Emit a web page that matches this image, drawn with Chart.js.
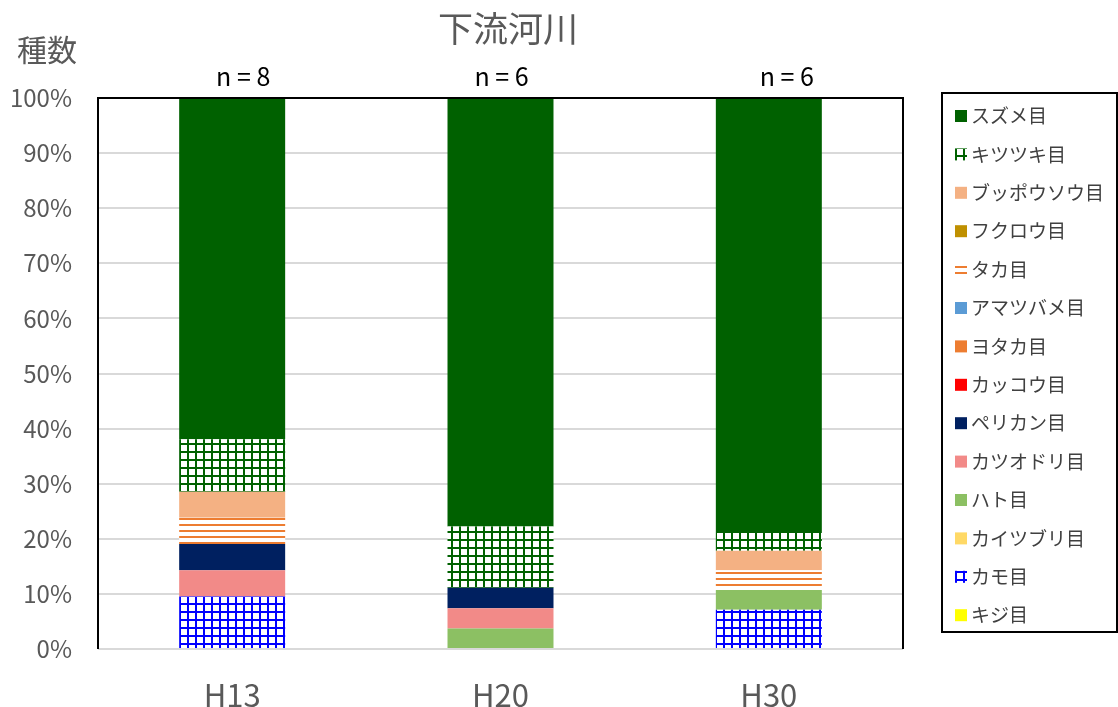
<!DOCTYPE html>
<html lang="ja">
<head>
    <meta charset="UTF-8">
    <title>下流河川</title>
    <script src="https://cdn.jsdelivr.net/npm/chart.js"></script>
    <style>
        body { margin: 0; background: #fff; }
        canvas { display: block; }
    </style>
</head>
<body>
    <canvas id="graphic" width="1118" height="707"></canvas>

    <script>
        // données (pourcentages du nombre d'espèces)
        const years = ['H13', 'H20', 'H30'];
        const nLabels = ['n = 8', 'n = 6', 'n = 6'];
        const yTicks = [0, 10, 20, 30, 40, 50, 60, 70, 80, 90, 100];

        const kiji       = [0, 0, 0];
        const kamo       = [9.52, 0, 7.14];
        const kaitsuburi = [0, 0, 0];
        const hato       = [0, 3.70, 3.57];
        const katsuodori = [4.76, 3.70, 0];
        const perikan    = [4.76, 3.70, 0];
        const kakkou     = [0, 0, 0];
        const yotaka     = [0, 0, 0];
        const amatsubame = [0, 0, 0];
        const taka       = [4.76, 0, 3.57];
        const fukurou    = [0, 0, 0];
        const buppousou  = [4.76, 0, 3.57];
        const kitsutsuki = [9.52, 11.11, 3.57];
        const suzume     = [61.90, 77.78, 78.57];

        const FONT = '"Noto Sans CJK JP", "Noto Sans", sans-serif';
        const canvas = document.getElementById('graphic');
        const ctx = canvas.getContext('2d');

        // motifs (quadrillage / lignes)
        function gridPattern(color) {
            const c = document.createElement('canvas');
            c.width = 8; c.height = 8;
            const g = c.getContext('2d');
            g.fillStyle = '#fff';
            g.fillRect(0, 0, 8, 8);
            g.fillStyle = color;
            g.fillRect(3, 0, 2, 8);
            g.fillRect(0, 3, 8, 2);
            return ctx.createPattern(c, 'repeat');
        }
        function linePattern(color) {
            const c = document.createElement('canvas');
            c.width = 6; c.height = 6;
            const g = c.getContext('2d');
            g.fillStyle = '#fff';
            g.fillRect(0, 0, 6, 6);
            g.fillStyle = color;
            g.fillRect(0, 2, 6, 2);
            return ctx.createPattern(c, 'repeat');
        }

        const series = [
            ['キジ目', kiji, '#FFFF00'],
            ['カモ目', kamo, gridPattern('#0000FF')],
            ['カイツブリ目', kaitsuburi, '#FFD966'],
            ['ハト目', hato, '#8CC063'],
            ['カツオドリ目', katsuodori, '#F28A88'],
            ['ペリカン目', perikan, '#002060'],
            ['カッコウ目', kakkou, '#FF0000'],
            ['ヨタカ目', yotaka, '#ED7D31'],
            ['アマツバメ目', amatsubame, '#5B9BD5'],
            ['タカ目', taka, linePattern('#ED7D31')],
            ['フクロウ目', fukurou, '#BF9000'],
            ['ブッポウソウ目', buppousou, '#F4B183'],
            ['キツツキ目', kitsutsuki, gridPattern('#006100')],
            ['スズメ目', suzume, '#006100'],
        ];

        const decorations = {
            id: 'decorations',
            afterDraw(chart) {
                const c = chart.ctx;
                const area = chart.chartArea;
                const x = chart.scales.x;
                c.save();

                // titre
                c.fillStyle = '#595959';
                c.font = `35px ${FONT}`;
                c.textAlign = 'center';
                c.textBaseline = 'middle';
                c.fillText('下流河川', 508, 29);

                // titre de l'axe
                c.font = `30px ${FONT}`;
                c.textAlign = 'left';
                c.fillText('種数', 17, 50);

                // n = ...
                const nOffsets = [11, 1, 18];
                c.fillStyle = '#000';
                c.font = `25px ${FONT}`;
                c.textAlign = 'center';
                nLabels.forEach((t, i) => {
                    c.fillText(t, x.getPixelForValue(i) + nOffsets[i], 76);
                });

                // bordure de la zone de tracé
                c.strokeStyle = '#000';
                c.lineWidth = 2;
                c.beginPath();
                c.moveTo(area.left, area.bottom);
                c.lineTo(area.left, area.top);
                c.lineTo(area.right, area.top);
                c.lineTo(area.right, area.bottom);
                c.stroke();

                // légende
                c.strokeRect(942, 93, 175, 539);
                c.font = `19px ${FONT}`;
                c.textAlign = 'left';
                c.textBaseline = 'middle';
                const items = chart.data.datasets.slice().reverse();
                items.forEach((ds, i) => {
                    const y = 116 + i * 38.4;
                    c.fillStyle = ds.backgroundColor;
                    c.fillRect(955, y - 6, 12, 12);
                    c.fillStyle = '#404040';
                    c.fillText(ds.label, 971, y);
                });
                c.restore();
            }
        };

        new Chart(ctx, {
            type: 'bar',
            data: {
                labels: years,
                datasets: series.map(([label, data, color]) => ({
                    label: label,
                    data: data,
                    backgroundColor: color,
                    borderWidth: 0,
                    categoryPercentage: 1,
                    barPercentage: 0.395,
                })),
            },
            options: {
                responsive: false,
                animation: false,
                layout: { padding: { top: 98, right: 215, left: 0, bottom: 0 } },
                scales: {
                    x: {
                        stacked: true,
                        grid: { display: false },
                        border: { display: false },
                        ticks: { color: '#595959', font: { family: FONT, size: 31 }, padding: 20 },
                        afterFit: (s) => { s.height = 58; },
                    },
                    y: {
                        stacked: true,
                        min: 0,
                        max: 100,
                        afterBuildTicks: (s) => { s.ticks = yTicks.map(v => ({ value: v })); },
                        grid: { color: '#D9D9D9', lineWidth: 2, drawTicks: false },
                        border: { display: false },
                        ticks: {
                            color: '#595959',
                            font: { family: FONT, size: 24 },
                            padding: 26,
                            callback: (v) => v + '%',
                        },
                        afterFit: (s) => { s.width = 98; },
                    },
                },
                plugins: {
                    legend: { display: false },
                    tooltip: { enabled: false },
                },
            },
            plugins: [decorations],
        });
    </script>
</body>
</html>
